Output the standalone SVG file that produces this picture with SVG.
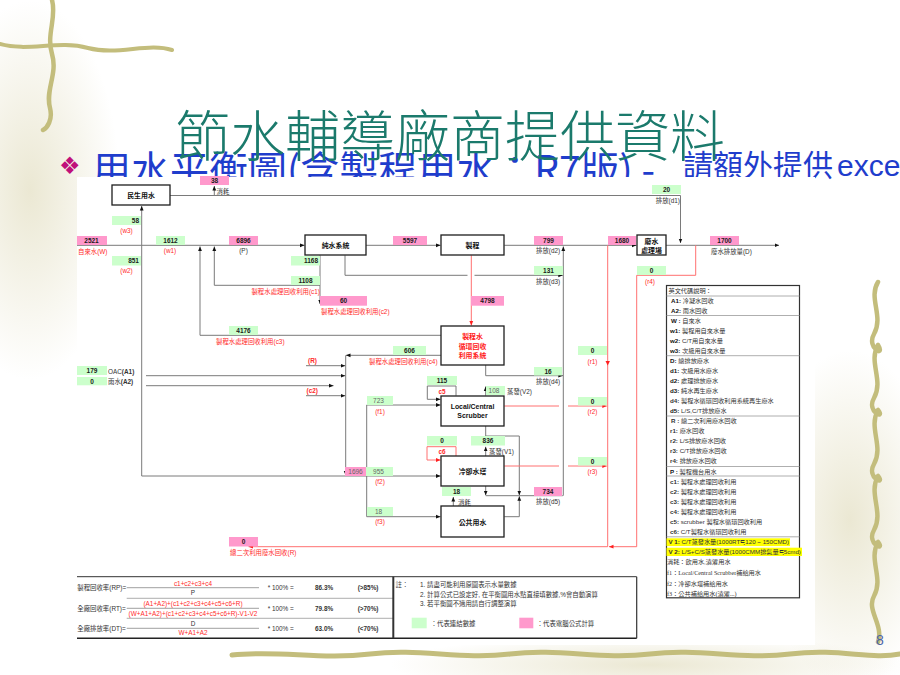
<svg xmlns="http://www.w3.org/2000/svg" width="900" height="675" viewBox="0 0 900 675">
<defs>
<style>
.ln{stroke:#7a7a7a;stroke-width:1;fill:none}
.rl{stroke:#ff7070;stroke-width:1;fill:none}
.bx{fill:#fff;stroke:#1e1e1e;stroke-width:1.3}
.g{fill:#ccffcc}
.p{fill:#ff99cc}
.n{font-family:"Liberation Sans",Arial,sans-serif;font-weight:bold;font-size:6.5px;fill:#1a1a1a;text-anchor:middle}
.ng{font-family:"Liberation Sans",Arial,sans-serif;font-size:6.5px;fill:#666;text-anchor:middle}
.t{font-family:"Liberation Sans","Noto Sans CJK TC",sans-serif;font-size:6.4px;fill:#333}
.r{fill:#ff2a2a}
.c{text-anchor:middle}
.e{text-anchor:end}
.b{font-weight:bold}
.bt{font-family:"Liberation Sans","Noto Sans CJK TC",sans-serif;font-size:6.9px;font-weight:bold;fill:#111;text-anchor:middle}
.lg{font-family:"Liberation Sans","Noto Sans CJK TC",sans-serif;font-size:6.2px;fill:#333}
.lgs{font-family:"Liberation Serif","Noto Sans CJK TC",serif;font-size:6.2px;fill:#333}
.sep{stroke:#9a9a9a;stroke-width:0.8}
.vine{fill:none;stroke:#c3bd7c;stroke-linecap:round;stroke-linejoin:round}
</style>
<marker id="a" markerUnits="userSpaceOnUse" markerWidth="5" markerHeight="5" refX="4.5" refY="2.5" orient="auto"><path d="M0,0.6 L4.5,2.5 L0,4.4z" fill="#111"/></marker>
<marker id="ar" markerUnits="userSpaceOnUse" markerWidth="5" markerHeight="5" refX="4.5" refY="2.5" orient="auto"><path d="M0,0.6 L4.5,2.5 L0,4.4z" fill="#ff2020"/></marker>
<radialGradient id="fade"><stop offset="0" stop-color="#e6e2c8" stop-opacity="0.8"/><stop offset="1" stop-color="#e6e2c8" stop-opacity="0"/></radialGradient>
</defs>
<rect width="900" height="675" fill="#fff"/>
<g id="background">
<ellipse cx="30" cy="190" rx="90" ry="190" fill="url(#fade)"/>
<ellipse cx="850" cy="520" rx="90" ry="170" fill="url(#fade)"/>
<ellipse cx="650" cy="665" rx="260" ry="30" fill="url(#fade)"/>
<path class="vine" stroke-width="4.5" d="M52,0 C57,18 46,34 52,54 C58,74 45,90 50,108 C53,120 47,128 43,130"/>
<path class="vine" stroke-width="4" d="M0,44 C28,52 58,40 88,48 C118,56 148,42 172,50"/>
<path class="vine" stroke-width="4.5" d="M878,282 C868,298 884,316 874,334 C866,348 886,358 878,345 M878,345 C868,362 884,380 874,398 C866,412 886,420 878,410 M878,410 C868,428 884,446 874,464 C866,478 886,486 878,476 M878,476 C868,494 884,512 874,530 C866,544 886,552 878,542 M878,542 C868,560 884,578 874,596 C866,610 884,625 878,642"/>
<path class="vine" stroke-width="5" d="M232,655 C280,650 320,660 370,654 C420,648 460,660 510,654 C560,648 600,660 650,654 C700,648 740,660 790,654 C840,648 870,660 900,654"/>
</g>
<g id="heading">
<text x="59" y="174" font-family="DejaVu Sans,sans-serif" font-size="24" fill="#c0107a">❖</text>
<text x="92" y="184" font-family="Noto Sans CJK TC,sans-serif" font-size="39" fill="#1f3dcc">用水平衡圖(含製程用水：R7版) -</text>
<text x="683" y="176" font-family="Noto Sans CJK TC,sans-serif" font-size="30" fill="#1f3dcc">請額外提供<tspan x="837" font-family="Liberation Sans,sans-serif">excel</tspan></text>
<text x="175" y="156" font-family="Noto Sans CJK TC,sans-serif" font-size="55" font-weight="300" fill="#1b7a6c">節水輔導廠商提供資料</text>
</g>
<rect x="77" y="177" width="738" height="468" fill="#fff"/>

<g id="connectors">
<path class="ln" d="M170,195.5 H680.5 V243" marker-end="url(#a)"/>
<path class="ln" d="M214.3,195.5 V186" marker-end="url(#a)"/>
<path class="ln" d="M77,245.3 H304.5" marker-end="url(#a)"/>
<path class="ln" d="M141.7,245.3 V206" marker-end="url(#a)"/>
<path class="ln" d="M141.7,245.3 V476 H440.5" marker-end="url(#a)"/>
<path class="ln" d="M441,335.3 H200 V246.5" marker-end="url(#a)"/>
<path class="ln" d="M320,285.3 H214.3 V246.5" marker-end="url(#a)"/>
<path class="ln" d="M320,255.3 V304" marker-end="url(#a)"/>
<path class="ln" d="M366,245.3 H440.5" marker-end="url(#a)"/>
<path class="ln" d="M345,255.3 V275.3 H467.5"/>
<path class="ln" d="M474.5,275.3 H562.8" marker-end="url(#a)"/>
<path class="ln" d="M504.3,245.3 H636.5" marker-end="url(#a)"/>
<path class="ln" d="M563.3,495.7 V246.5" marker-end="url(#a)"/>
<path class="ln" d="M666,245.3 H779" marker-end="url(#a)"/>
<path class="ln" d="M485.7,365 V375.7 H562.8" marker-end="url(#a)"/>
<path class="ln" d="M441,355.3 H346" marker-end="url(#a)"/>
<path class="ln" d="M345.7,355.3 V475.5" marker-end="url(#a)"/>
<path class="ln" d="M306,365.7 H345.2" marker-end="url(#a)"/>
<path class="ln" d="M146,375.7 H345.2" marker-end="url(#a)"/>
<path class="ln" d="M146,385.7 H333.5" marker-end="url(#a)"/>
<path class="ln" d="M306,395.7 H345.2" marker-end="url(#a)"/>
<path class="ln" d="M366.7,405 V516.7"/>
<path class="ln" d="M366.7,405 H440.5" marker-end="url(#a)"/>
<path class="ln" d="M366.7,516.7 H440.5" marker-end="url(#a)"/>
<path class="ln" d="M456,395.7 V386 H427.3 V399.3 H440.5" marker-end="url(#a)"/>
<path class="ln" d="M485.7,395.7 V386.5" marker-end="url(#a)"/>
<path class="ln" d="M485.7,426 V436 H519.3 V495.2" marker-end="url(#a)"/>
<path class="ln" d="M485.7,456 V446.8" marker-end="url(#a)"/>
<path class="ln" d="M485.7,486 V495.2" marker-end="url(#a)"/>
<path class="ln" d="M485.7,495.7 H562.8"/>
<path class="ln" d="M504.3,516.7 H519.3 V496.3" marker-end="url(#a)"/>
<path class="ln" d="M453.3,506 V497" marker-end="url(#a)"/>
<path class="rl" d="M471.3,255.3 V325.5" marker-end="url(#ar)"/>
<path class="rl" d="M456,456 V446.7 H427 V460 H440.5" marker-end="url(#ar)"/>
<path class="rl" d="M504.3,406 H559"/>
<path class="rl" d="M568,406 H606.8" marker-end="url(#ar)"/>
<path class="rl" d="M504.3,466 H559"/>
<path class="rl" d="M568,466 H606.8" marker-end="url(#ar)"/>
<path class="rl" d="M607.7,245.3 V546.7 H248.5" marker-end="url(#ar)"/>
<path class="rl" d="M695.7,245.3 V275.3 H636.7 V546.7 H609" marker-end="url(#ar)"/>
<path d="M605.5,361 L609.9,361 L607.7,365.5z" fill="#ff2020"/>
</g>

<g id="values">
<rect class="p" x="200" y="176" width="29" height="9"/><text class="n" x="214.5" y="183">38</text>
<rect class="g" x="652" y="185" width="29" height="9"/><text class="n" x="666.5" y="192">20</text>
<rect class="g" x="112" y="216" width="29" height="9"/><text class="n e" x="139" y="223">58</text>
<rect class="p" x="77" y="236" width="30" height="9"/><text class="n" x="91.5" y="243">2521</text>
<rect class="g" x="156" y="236" width="29" height="9"/><text class="n" x="170.5" y="243">1612</text>
<rect class="p" x="229" y="236" width="29" height="9"/><text class="n" x="243.5" y="243">6896</text>
<rect class="p" x="393" y="236" width="34" height="9"/><text class="n" x="410" y="243">5597</text>
<rect class="p" x="534" y="236" width="29" height="9"/><text class="n" x="548.5" y="243">799</text>
<rect class="p" x="608" y="236" width="28" height="9"/><text class="n" x="622" y="243">1680</text>
<rect class="p" x="710" y="236" width="29" height="9"/><text class="n" x="724.5" y="243">1700</text>
<rect class="g" x="112" y="256" width="29" height="9.5"/><text class="n e" x="139" y="263.3">851</text>
<rect class="g" x="291" y="256" width="29" height="9.5"/><text class="n e" x="318" y="263.3">1168</text>
<rect class="g" x="534" y="266" width="29" height="9"/><text class="n" x="548.5" y="273">131</text>
<rect class="g" x="637" y="266" width="29" height="9"/><text class="n" x="651.5" y="273">0</text>
<rect class="g" x="291" y="276" width="29" height="9"/><text class="n" x="305.5" y="283">1108</text>
<rect class="p" x="320" y="296" width="47" height="9.7"/><text class="n" x="343.5" y="303.3">60</text>
<rect class="p" x="471" y="296" width="33" height="9.7"/><text class="n" x="487.5" y="303.3">4798</text>
<rect class="g" x="229" y="326" width="29" height="9"/><text class="n" x="243.5" y="333">4176</text>
<rect class="g" x="393" y="346" width="33" height="9"/><text class="n" x="409.5" y="353">606</text>
<rect class="g" x="578" y="346" width="29" height="9"/><text class="n" x="592.5" y="353">0</text>
<rect class="g" x="77" y="366" width="30" height="9"/><text class="n" x="92" y="373">179</text>
<rect class="g" x="77" y="377" width="30" height="8.3"/><text class="n" x="92" y="383.5">0</text>
<rect class="g" x="534" y="367" width="28" height="8.5"/><text class="n" x="548" y="374">16</text>
<rect class="g" x="427" y="376" width="30" height="9"/><text class="n" x="442" y="383">115</text>
<rect class="g" x="486" y="386" width="19" height="9"/><text class="ng" x="494" y="393">108</text>
<rect class="g" x="367" y="396" width="26" height="9"/><text class="ng" x="378.5" y="403">723</text>
<rect class="g" x="578" y="397" width="29" height="8.5"/><text class="n" x="592.5" y="404">0</text>
<rect class="g" x="427" y="436" width="30" height="9.5"/><text class="n" x="442" y="443.3">0</text>
<rect class="g" x="471" y="436" width="34" height="9.5"/><text class="n" x="488" y="443.3">836</text>
<rect class="g" x="578" y="457" width="29" height="8.5"/><text class="n" x="592.5" y="464">0</text>
<rect class="p" x="345" y="467" width="21" height="9"/><text class="ng" x="355.5" y="474">1696</text>
<rect class="g" x="366" y="467" width="27" height="9"/><text class="ng" x="378.5" y="474">955</text>
<rect class="g" x="442" y="487" width="29" height="9"/><text class="n" x="456.5" y="494">18</text>
<rect class="p" x="534" y="487" width="28" height="9"/><text class="n" x="548" y="494">734</text>
<rect class="g" x="367" y="507" width="26" height="9"/><text class="ng" x="378.5" y="514">18</text>
<rect class="p" x="229" y="537" width="29" height="9.5"/><text class="n" x="243.5" y="544.3">0</text>
</g>

<g id="labels">
<text class="t" x="216.5" y="193.5" font-size="5.6">消耗</text>
<text class="t e" x="680" y="203">排放(d1)</text>
<text class="t r c" x="126.5" y="233">(w3)</text>
<text class="t r" x="78" y="254">自來水(W)</text>
<text class="t r c" x="170" y="253">(w1)</text>
<text class="t c" x="243.5" y="253">(P)</text>
<text class="t" x="536" y="253">排放(d2)</text>
<text class="t" x="711" y="253.5">廢水排放量(D)</text>
<text class="t r c" x="126.5" y="273">(w2)</text>
<text class="t" x="536" y="283.5">排放(d3)</text>
<text class="t r c" x="650" y="283.5">(r4)</text>
<text class="t r e" x="320" y="293.5">製程水處理回收利用(c1)</text>
<text class="t r" x="321" y="313.5">製程水處理回收利用(c2)</text>
<text class="t r" x="216" y="343.5">製程水處理回收利用(c3)</text>
<text class="t r" x="369" y="364">製程水處理回收利用(c4)</text>
<text class="t r c" x="592.5" y="363.5">(r1)</text>
<text class="t r b" x="308" y="363">(R)</text>
<text class="t" x="108" y="373.5">OAC<tspan class="b">(A1)</tspan></text>
<text class="t" x="108" y="384">雨水<tspan class="b">(A2)</tspan></text>
<text class="t" x="536" y="384">排放(d4)</text>
<text class="t r b" x="306.5" y="393">(c2)</text>
<text class="t r b c" x="442" y="393.5">c5</text>
<text class="t" x="507" y="393.5">蒸發(V2)</text>
<text class="t r c" x="380" y="413.5">(f1)</text>
<text class="t r c" x="592.5" y="413.5">(r2)</text>
<text class="t r b c" x="442" y="453.5">c6</text>
<text class="t" x="489" y="454">蒸發(V1)</text>
<text class="t r c" x="592.5" y="474">(r3)</text>
<text class="t r c" x="380" y="484">(f2)</text>
<text class="t" x="536" y="504">排放(d5)</text>
<text class="t" x="458" y="505" font-size="5.6">消耗</text>
<text class="t r c" x="380" y="524">(f3)</text>
<text class="t r" x="230" y="554.5">總二次利用廢水回收(R)</text>
</g>

<g id="node-minsheng"><rect class="bx" x="112" y="185" width="58" height="20"/><text class="bt" x="141" y="197.5">民生用水</text></g>
<g id="node-pure"><rect class="bx" x="305" y="235" width="61" height="20"/><text class="bt" x="335.5" y="247.8">純水系統</text></g>
<g id="node-process"><rect class="bx" x="441" y="235" width="63" height="20"/><text class="bt" x="472.5" y="247.8">製程</text></g>
<g id="node-wwtp"><rect class="bx" x="637" y="235" width="29" height="20"/><text class="bt" x="651.5" y="243.5">廢水</text><text class="bt" x="651.5" y="252.5">處理場</text></g>
<g id="node-recycle"><rect class="bx" x="441" y="326" width="63" height="39"/><text class="bt" x="472.5" y="339" style="fill:#ff2020">製程水</text><text class="bt" x="472.5" y="348.5" style="fill:#ff2020">循環回收</text><text class="bt" x="472.5" y="358" style="fill:#ff2020">利用系統</text></g>
<g id="node-scrubber"><rect class="bx" x="441" y="396" width="63" height="30"/><text class="bt" x="472.5" y="409">Local/Central</text><text class="bt" x="472.5" y="417.8">Scrubber</text></g>
<g id="node-cooling"><rect class="bx" x="441" y="456" width="63" height="30"/><text class="bt" x="472.5" y="474">冷卻水塔</text></g>
<g id="node-public"><rect class="bx" x="441" y="506" width="63" height="31"/><text class="bt" x="472.5" y="524.5">公共用水</text></g>

<g id="legend">
<rect x="666.5" y="285.5" width="133" height="312.3" fill="#fff" stroke="#333" stroke-width="1.2"/>
<rect x="666.5" y="538.3" width="123.5" height="7.8" fill="#ffff00"/>
<rect x="666.5" y="547.7" width="135.5" height="8.3" fill="#ffff00"/>
<line class="sep" x1="666.5" y1="296" x2="799.5" y2="296"/>
<line class="sep" x1="666.5" y1="315.5" x2="799.5" y2="315.5"/>
<line class="sep" x1="666.5" y1="355.7" x2="799.5" y2="355.7"/>
<line class="sep" x1="666.5" y1="416" x2="799.5" y2="416"/>
<line class="sep" x1="666.5" y1="466.5" x2="799.5" y2="466.5"/>
<line class="sep" x1="666.5" y1="476" x2="799.5" y2="476"/>
<line class="sep" x1="666.5" y1="536.8" x2="799.5" y2="536.8"/>
<text class="lg" x="668.5" y="293.2">英文代碼說明：</text>
<text class="lg" x="671" y="303.2"><tspan class="b" fill="#111">A1:</tspan> 冷凝水回收</text>
<text class="lg" x="671" y="313.2"><tspan class="b" fill="#111">A2:</tspan> 雨水回收</text>
<text class="lg" x="671" y="323.2"><tspan class="b" fill="#111">W :</tspan> 自來水</text>
<text class="lg" x="670" y="333.2"><tspan class="b" fill="#111">w1:</tspan> 製程用自來水量</text>
<text class="lg" x="670" y="343.2"><tspan class="b" fill="#111">w2:</tspan> C/T用自來水量</text>
<text class="lg" x="670" y="353.2"><tspan class="b" fill="#111">w3:</tspan> 次級用自來水量</text>
<text class="lg" x="670" y="363.2"><tspan class="b" fill="#111">D:</tspan>  總排放廢水</text>
<text class="lg" x="670" y="373.2"><tspan class="b" fill="#111">d1:</tspan> 次級用水廢水</text>
<text class="lg" x="670" y="383.2"><tspan class="b" fill="#111">d2:</tspan> 處理排放廢水</text>
<text class="lg" x="670" y="393.2"><tspan class="b" fill="#111">d3:</tspan> 純水再生廢水</text>
<text class="lg r" x="670" y="403.2"><tspan class="b">d4:</tspan> 製程水循環回收利用系統再生廢水</text>
<text class="lg" x="670" y="413.2"><tspan class="b" fill="#111">d5:</tspan> L/S,C/T排放廢水</text>
<text class="lg r" x="671" y="423.2"><tspan class="b">R :</tspan> 總二次利用廢水回收</text>
<text class="lg r" x="670" y="433.2"><tspan class="b">r1:</tspan> 廢水回收</text>
<text class="lg r" x="670" y="443.2"><tspan class="b">r2:</tspan> L/S排放廢水回收</text>
<text class="lg r" x="670" y="453.2"><tspan class="b">r3:</tspan> C/T排放廢水回收</text>
<text class="lg r" x="670" y="463.2"><tspan class="b">r4:</tspan> 排放廢水回收</text>
<text class="lg" x="670" y="473.8"><tspan class="b" fill="#111">P :</tspan> 製程機台用水</text>
<text class="lg r" x="670" y="483.8"><tspan class="b">c1:</tspan> 製程水處理回收利用</text>
<text class="lg r" x="670" y="493.8"><tspan class="b">c2:</tspan> 製程水處理回收利用</text>
<text class="lg r" x="670" y="503.8"><tspan class="b">c3:</tspan> 製程水處理回收利用</text>
<text class="lg r" x="670" y="513.8"><tspan class="b">c4:</tspan> 製程水處理回收利用</text>
<text class="lg r" x="670" y="523.8"><tspan class="b">c5:</tspan> scrubber 製程水循環回收利用</text>
<text class="lg r" x="670" y="533.8"><tspan class="b">c6:</tspan> C/T製程水循環回收利用</text>
<text class="lg" x="668.5" y="544.3" fill="#111"><tspan class="b">V 1:</tspan> C/T蒸發水量(1000RT≒120 ~ 150CMD)</text>
<text class="lg" x="668.5" y="554" fill="#111"><tspan class="b">V 2:</tspan> L/S+C/S蒸發水量(1000CMM排氣量≒5cmd)</text>
<text class="lg" x="667" y="564">消耗：飲用水,澆灌用水</text>
<text class="lgs" x="667" y="574.5">f1：Local/Central Scrubber補給用水</text>
<text class="lgs" x="667" y="585.5">f2：冷卻水塔補給用水</text>
<text class="lgs" x="667" y="595.5">f3：公共補給用水(澆灌...)</text>
</g>

<g id="formulas">
<line x1="77" y1="576.7" x2="636.7" y2="576.7" stroke="#333" stroke-width="1"/>
<line x1="126.7" y1="598.3" x2="393" y2="598.3" stroke="#999" stroke-width="0.8"/>
<line x1="126.7" y1="618.3" x2="393" y2="618.3" stroke="#999" stroke-width="0.8"/>
<line x1="126.7" y1="587.7" x2="259" y2="587.7" stroke="#888" stroke-width="0.8"/>
<line x1="126.7" y1="608.3" x2="259" y2="608.3" stroke="#888" stroke-width="0.8"/>
<line x1="126.7" y1="628.3" x2="259" y2="628.3" stroke="#888" stroke-width="0.8"/>
<line x1="77" y1="638.3" x2="636.7" y2="638.3" stroke="#222" stroke-width="1.5"/>
<line x1="393.3" y1="576.7" x2="393.3" y2="638.3" stroke="#333" stroke-width="2"/>
<line x1="636.7" y1="576.7" x2="636.7" y2="638.3" stroke="#333" stroke-width="1.2"/>
<text class="t" x="77.3" y="590">製程回收率(RP)=</text>
<text class="t r c" x="193" y="585.5">c1+c2+c3+c4</text>
<text class="t c" x="193" y="595">P</text>
<text class="t" x="267.7" y="590">* 100% =</text>
<text class="t b" x="315" y="590">86.3%</text>
<text class="t b" x="357.7" y="590">(&gt;85%)</text>
<text class="t" x="77.3" y="610.5">全廠回收率(RT)=</text>
<text class="t r c" x="193" y="605.5">(A1+A2)+(c1+c2+c3+c4+c5+c6+R)</text>
<text class="t r c" x="193" y="615.5" font-size="6.1">(W+A1+A2)+(c1+c2+c3+c4+c5+c6+R)-V1-V2</text>
<text class="t" x="267.7" y="610.5">* 100% =</text>
<text class="t b" x="315" y="610.5">79.8%</text>
<text class="t b" x="357.7" y="610.5">(&gt;70%)</text>
<text class="t" x="77.3" y="630.5">全廠排放率(DT)=</text>
<text class="t c" x="193" y="625.5">D</text>
<text class="t r c" x="193" y="635">W+A1+A2</text>
<text class="t" x="267.7" y="630.5">* 100% =</text>
<text class="t b" x="315" y="630.5">63.0%</text>
<text class="t b" x="357.7" y="630.5">(&lt;70%)</text>
</g>

<g id="notes">
<text class="t" x="395.5" y="587">註：</text>
<text class="t" x="420" y="587">1. 請盡可能利用原圖表示水量數據</text>
<text class="t" x="420" y="596.5">2. 計算公式已設定好, 在平衡圖用水點直接填數據,%會自動演算</text>
<text class="t" x="420" y="606">3. 若平衡圖不適用請自行調整演算</text>
<rect class="g" x="411.7" y="617.7" width="15" height="10.6"/>
<text class="t" x="430.7" y="625.5">：代表連結數據</text>
<rect class="p" x="519.3" y="617.7" width="14" height="10.6"/>
<text class="t" x="536.7" y="625.5">：代表電腦公式計算</text>
</g>

<text x="876" y="645" font-family="Liberation Sans,sans-serif" font-size="14" fill="#4a64a8">8</text>
</svg>
